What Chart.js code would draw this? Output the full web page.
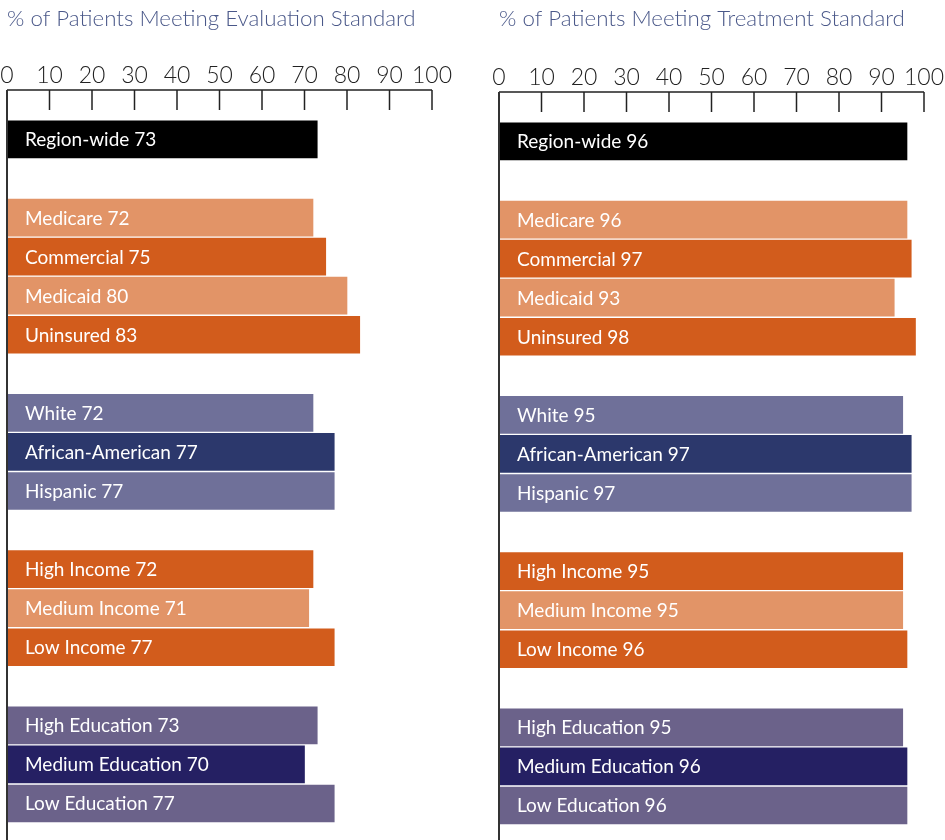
<!DOCTYPE html>
<html>
<head>
<meta charset="utf-8">
<script src="https://cdn.jsdelivr.net/npm/chart.js@4.4.1/dist/chart.umd.min.js"></script>
<style>
    html, body { margin: 0; padding: 0; background: #fff; }
    #wrap { position: relative; width: 945px; height: 840px; overflow: hidden; }
    .panel { position: absolute; top: 0; height: 840px; }
    #evalPanel { left: 0; width: 470px; }
    #treatPanel { left: 480px; width: 465px; }
</style>
</head>
<body>
<div id="wrap">
    <div class="panel" id="evalPanel"><canvas id="evalChart"></canvas></div>
    <div class="panel" id="treatPanel"><canvas id="treatChart"></canvas></div>
</div>
<script>
// rows, blank entries are the gaps between groups
const categories = ["Region-wide", "", "Medicare", "Commercial", "Medicaid", "Uninsured", "",
    "White", "African-American", "Hispanic", "", "High Income", "Medium Income", "Low Income", "",
    "High Education", "Medium Education", "Low Education"];
const evaluationValues = [73, null, 72, 75, 80, 83, null, 72, 77, 77, null, 72, 71, 77, null, 73, 70, 77];
const treatmentValues = [96, null, 96, 97, 93, 98, null, 95, 97, 97, null, 95, 95, 96, null, 95, 96, 96];
const tickValues = [0, 10, 20, 30, 40, 50, 60, 70, 80, 90, 100];

const BLACK = "#000000", LIGHT_OR = "#e29467", DARK_OR = "#d25c1c";
const SLATE = "#6f7099", NAVY = "#2c386c", PLUM = "#6b628a", INDIGO = "#252063";
const barColors = [BLACK, null, LIGHT_OR, DARK_OR, LIGHT_OR, DARK_OR, null,
    SLATE, NAVY, SLATE, null, DARK_OR, LIGHT_OR, DARK_OR, null, PLUM, INDIGO, PLUM];

const FONT = "Lato, 'Open Sans', sans-serif";

// axis line + downward tick marks, placed off the x scale
const axisPlugin = {
    id: "topAxis",
    afterDraw(chart) {
        const { ctx, chartArea, scales } = chart;
        const x = scales.x;
        const y0 = chartArea.top - 30;
        ctx.save();
        ctx.strokeStyle = "#222";
        ctx.lineWidth = 1.5;
        ctx.beginPath();
        ctx.moveTo(x.getPixelForValue(0), y0);
        ctx.lineTo(x.getPixelForValue(100), y0);
        tickValues.forEach(v => {
            const px = x.getPixelForValue(v);
            ctx.moveTo(px, y0);
            ctx.lineTo(px, y0 + 20);
        });
        ctx.stroke();
        ctx.lineWidth = 2;
        ctx.strokeStyle = "#333";
        ctx.beginPath();
        ctx.moveTo(x.getPixelForValue(0), y0);
        ctx.lineTo(x.getPixelForValue(0), chart.height);
        ctx.stroke();
        ctx.restore();
    }
};

// white text inside each bar
const labelPlugin = {
    id: "barLabels",
    afterDatasetsDraw(chart) {
        const { ctx } = chart;
        const ds = chart.data.datasets[0];
        ctx.save();
        ctx.fillStyle = "#fff";
        ctx.font = "400 19px " + FONT;
        ctx.textBaseline = "alphabetic";
        chart.getDatasetMeta(0).data.forEach((bar, i) => {
            const v = ds.data[i];
            if (v == null) return;
            ctx.fillText(categories[i] + " " + v, bar.base + 18, bar.y + 7);
        });
        ctx.restore();
    }
};

function makeChart(id, title, values, pad, titleGap) {
    return new Chart(document.getElementById(id), {
        type: "bar",
        data: {
            labels: categories,
            datasets: [{
                data: values,
                backgroundColor: barColors,
                barThickness: 37
            }]
        },
        options: {
            indexAxis: "y",
            responsive: true,
            maintainAspectRatio: false,
            animation: false,
            layout: { padding: pad },
            plugins: {
                legend: { display: false },
                tooltip: { enabled: false },
                title: {
                    display: true,
                    text: title,
                    align: "start",
                    color: "#4a5889",
                    font: { family: FONT, size: 22.3, weight: "300", lineHeight: 1 },
                    padding: { top: 8, bottom: titleGap }
                }
            },
            scales: {
                x: {
                    position: "top",
                    min: 0,
                    max: 100,
                    afterBuildTicks: s => { s.ticks = tickValues.map(v => ({ value: v })); },
                    // keep the chart edges where the padding puts them
                    afterFit: s => { s.paddingLeft = 0; s.paddingRight = 0; },
                    grid: { display: false, drawTicks: false },
                    border: { display: false },
                    ticks: {
                        color: "#222",
                        padding: 31,
                        maxRotation: 0,
                        autoSkip: false,
                        font: { family: FONT, size: 23, weight: "300" }
                    }
                },
                y: { display: false }
            }
        },
        plugins: [axisPlugin, labelPlugin]
    });
}

makeChart("evalChart", "% of Patients Meeting Evaluation Standard", evaluationValues,
    { left: 7, right: 38, top: 0, bottom: 17 }, 0);
makeChart("treatChart", "% of Patients Meeting Treatment Standard", treatmentValues,
    { left: 19, right: 21, top: 0, bottom: 15 }, 2);
</script>
</body>
</html>
